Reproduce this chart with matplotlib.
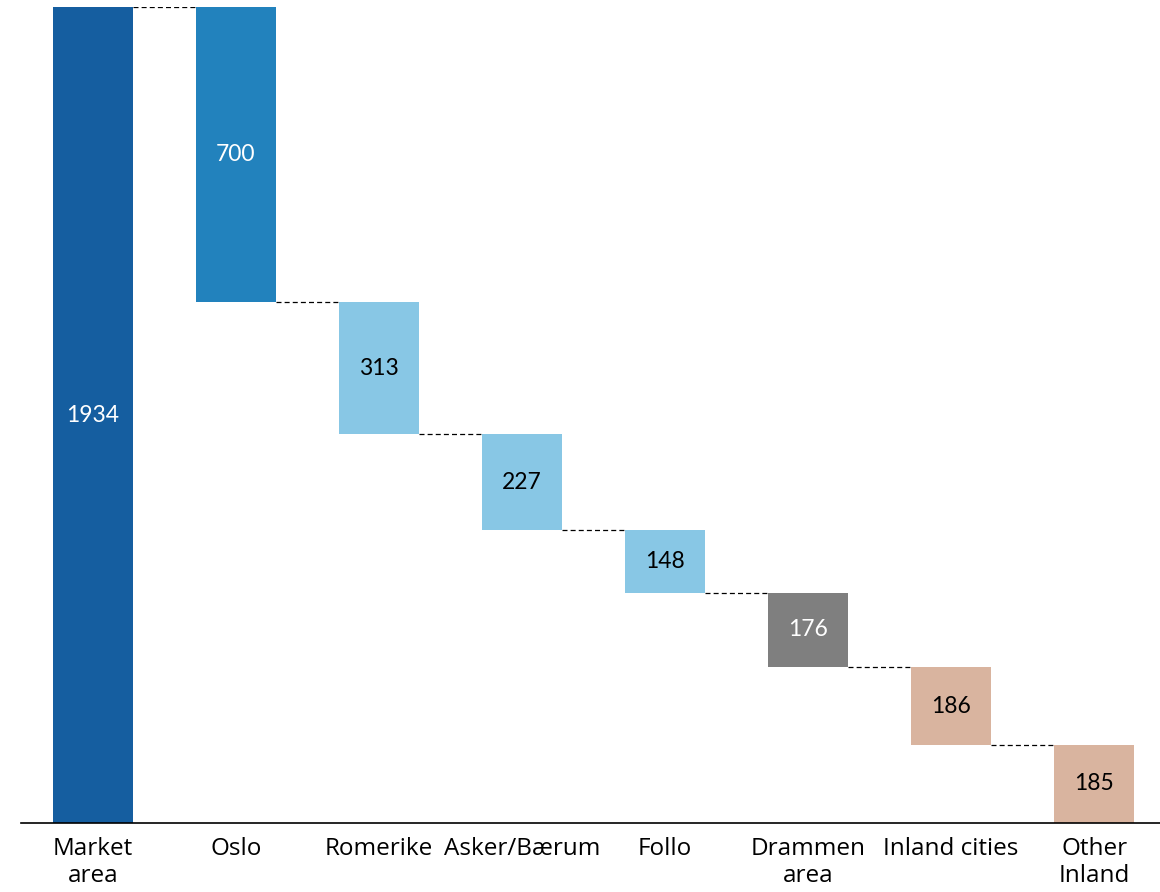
import matplotlib
matplotlib.use("Agg")
import matplotlib.pyplot as plt

categories = ["Market\narea", "Oslo", "Romerike", "Asker/Bærum", "Follo", "Drammen\narea", "Inland cities", "Other\nInland"]
values = [1934, 700, 313, 227, 148, 176, 186, 185]
colors = ["#155ea0", "#2282bd", "#88c7e5", "#88c7e5", "#88c7e5", "#7f7f7f", "#d9b49f", "#d9b49f"]
text_colors = ["white", "white", "black", "black", "black", "white", "black", "black"]

plt.rcParams['font.family'] = ['Lato', 'DejaVu Sans']

fig = plt.figure(figsize=(11.6, 8.92), dpi=100)
ax = fig.add_axes([21/1160, 69/892, 1 - 21/1160, 816/892])

# waterfall bottoms
bottoms = [0]
level = values[0]
for v in values[1:]:
    level -= v
    bottoms.append(max(level, 0))
x = list(range(len(values)))
w = 0.56
heights = list(values)
ax.bar(x, heights, bottom=bottoms, width=w, color=colors, zorder=2)

for i in range(len(values)):
    ax.text(x[i], bottoms[i] + heights[i] / 2, str(values[i]), ha='center', va='center',
            color=text_colors[i], fontsize=16.5, zorder=3)

# connectors
tops = [bottoms[i] + heights[i] for i in range(len(values))]
for i in range(len(values) - 1):
    lvl = tops[i + 1]
    ax.plot([x[i] + w / 2, x[i + 1] - w / 2], [lvl, lvl], color='black', lw=0.9,
            ls=(0, (4, 2.5)), zorder=1)

ax.set_xlim(-0.503, 7.46)
ax.set_ylim(0, 1934)
for s in ['top', 'right', 'left']:
    ax.spines[s].set_visible(False)
ax.spines['bottom'].set_linewidth(1.2)
ax.set_yticks([])
ax.set_xticks(x)
ax.set_xticklabels(categories, fontsize=17.5, linespacing=1.2, family=['Open Sans', 'DejaVu Sans'])
ax.tick_params(axis='x', length=0, pad=10)

fig.savefig("out.png", dpi=100)
